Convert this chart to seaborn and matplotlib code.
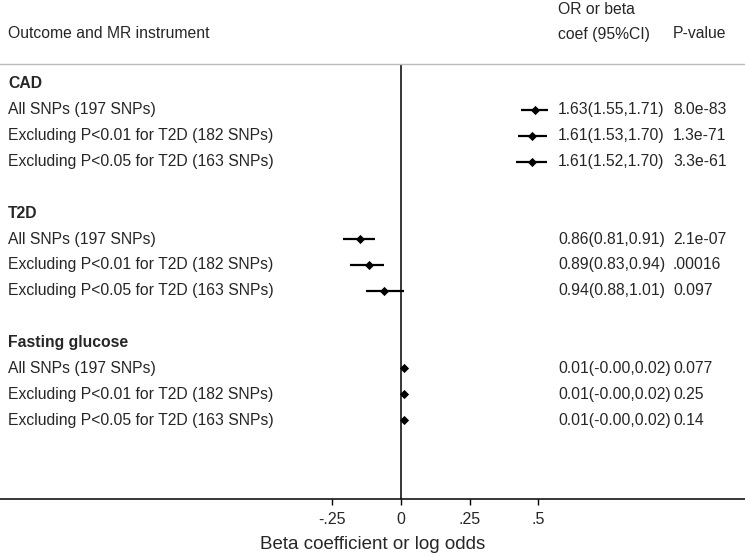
import numpy as np
import pandas as pd
import seaborn as sns
from matplotlib import pyplot as plt
from matplotlib import transforms

sns.set_style("white")
plt.rcParams["font.family"] = ["Liberation Sans", "DejaVu Sans"]

outcomes = ["CAD", "T2D", "Fasting glucose"]
instruments = ["All SNPs (197 SNPs)",
               "Excluding P<0.01 for T2D (182 SNPs)",
               "Excluding P<0.05 for T2D (163 SNPs)"]

# OR for CAD / T2D, beta for fasting glucose
cad_est = [1.63, 1.61, 1.61]
cad_lo = [1.55, 1.53, 1.52]
cad_hi = [1.71, 1.70, 1.70]
cad_p = ["8.0e-83", "1.3e-71", "3.3e-61"]

t2d_est = [0.86, 0.89, 0.94]
t2d_lo = [0.81, 0.83, 0.88]
t2d_hi = [0.91, 0.94, 1.01]
t2d_p = ["2.1e-07", ".00016", "0.097"]

fg_est = [0.01, 0.01, 0.01]
fg_lo = [-0.00, -0.00, -0.00]
fg_hi = [0.02, 0.02, 0.02]
fg_p = ["0.077", "0.25", "0.14"]

xticks = [-0.25, 0, 0.25, 0.5]
xticklabels = ["-.25", "0", ".25", ".5"]

rows = []
groups = [
    ("CAD", cad_est, cad_lo, cad_hi, cad_p, True),
    ("T2D", t2d_est, t2d_lo, t2d_hi, t2d_p, True),
    ("Fasting glucose", fg_est, fg_lo, fg_hi, fg_p, False),
]
pos = 0
headers = []
for name, est, lo, hi, p, is_or in groups:
    headers.append((name, pos))
    pos += 1
    for i in range(3):
        if is_or:
            b, l, h = np.log(est[i]), np.log(lo[i]), np.log(hi[i])
            txt = f"{est[i]:.2f}({lo[i]:.2f},{hi[i]:.2f})"
        else:
            b, l, h = est[i], lo[i], hi[i]
            txt = f"{est[i]:.2f}(-{abs(lo[i]):.2f},{hi[i]:.2f})"
        rows.append({"outcome": name, "label": instruments[i], "beta": b,
                     "lo": l, "hi": h, "ci": txt, "p": p[i], "row": pos})
        pos += 1
    pos += 1
df = pd.DataFrame(rows)

fig = plt.figure(figsize=(7.45, 5.56), dpi=100)
W, H = 745, 556
ax = fig.add_axes([0, 1 - 499 / H, 1, (499 - 64) / H])

ax.hlines(df["row"], df["lo"], df["hi"], color="black", lw=1.6, zorder=2)
sns.scatterplot(data=df, x="beta", y="row", marker="D", color="black",
                s=22, edgecolor="black", linewidth=0, ax=ax, zorder=3,
                legend=False)
ax.axvline(0, color="black", lw=1.1, zorder=1)

ax.set_xlim(-401 / 274.8, (W - 401) / 274.8)
ax.set_ylim(16.05, -0.77)
ax.set_xticks(xticks)
ax.set_xticklabels(xticklabels, fontsize=11.5)
ax.set_yticks([])
ax.tick_params(axis="x", direction="out", length=4, width=1, color="black",
               bottom=True, pad=5)
ax.set_ylabel("")
ax.set_xlabel("Beta coefficient or log odds", fontsize=13.5, labelpad=7)

for side in ["left", "right"]:
    ax.spines[side].set_visible(False)
ax.spines["bottom"].set_color("black")
ax.spines["bottom"].set_linewidth(1.1)
ax.spines["top"].set_color("#bbbbbb")
ax.spines["top"].set_linewidth(1.0)

tr = transforms.blended_transform_factory(fig.transFigure, ax.transData)
fs = 11.3
for name, r in headers:
    fig.text(8 / W, r, name, transform=tr, fontsize=fs, fontweight="bold",
             va="center", ha="left")
for _, r in df.iterrows():
    fig.text(8 / W, r["row"], r["label"], transform=tr, fontsize=fs,
             va="center", ha="left")
    fig.text(558 / W, r["row"], r["ci"], transform=tr, fontsize=fs,
             va="center", ha="left")
    fig.text(673 / W, r["row"], r["p"], transform=tr, fontsize=fs,
             va="center", ha="left")

fig.text(8 / W, 1 - 34 / H, "Outcome and MR instrument", fontsize=fs,
         va="center", ha="left")
fig.text(558 / W, 1 - 9 / H, "OR or beta", fontsize=fs, va="center", ha="left")
fig.text(558 / W, 1 - 34 / H, "coef (95%CI)", fontsize=fs, va="center", ha="left")
fig.text(673 / W, 1 - 34 / H, "P-value", fontsize=fs, va="center", ha="left")

plt.savefig("out.png", dpi=100)
